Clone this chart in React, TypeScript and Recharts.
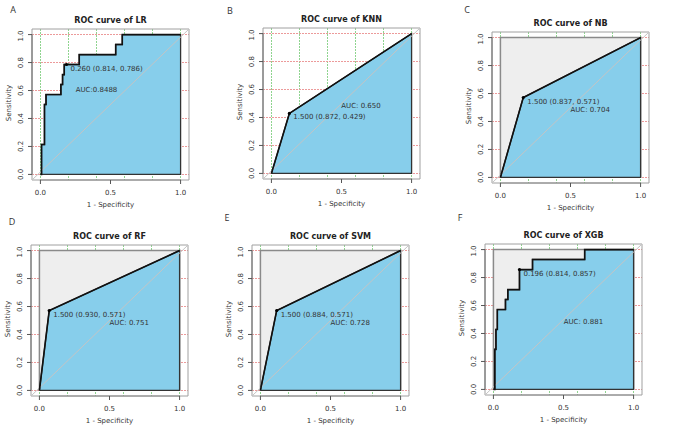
import React from "react";
import {
  ComposedChart,
  Area,
  Line,
  Scatter,
  XAxis,
  YAxis,
  CartesianGrid,
  ReferenceArea,
  ReferenceLine,
} from "recharts";

// ROC curves, x = 1 - specificity, y = sensitivity
const lrFpr = [0, 0.008, 0.008, 0.029, 0.029, 0.04, 0.04, 0.146, 0.146, 0.158, 0.158, 0.17, 0.17, 0.277, 0.277, 0.537, 0.537, 0.584, 0.584, 1];
const lrTpr = [0, 0, 0.214, 0.214, 0.5, 0.5, 0.571, 0.571, 0.643, 0.643, 0.714, 0.714, 0.786, 0.786, 0.857, 0.857, 0.929, 0.929, 1, 1];

const knnFpr = [0, 0.128, 1];
const knnTpr = [0, 0.429, 1];

const nbFpr = [0, 0.163, 1];
const nbTpr = [0, 0.571, 1];

const rfFpr = [0, 0.07, 1];
const rfTpr = [0, 0.571, 1];

const svmFpr = [0, 0.116, 1];
const svmTpr = [0, 0.571, 1];

const xgbFpr = [0, 0.01, 0.01, 0.018, 0.018, 0.028, 0.028, 0.086, 0.086, 0.103, 0.103, 0.186, 0.186, 0.279, 0.279, 0.651, 0.651, 1];
const xgbTpr = [0, 0, 0.286, 0.286, 0.429, 0.429, 0.571, 0.571, 0.643, 0.643, 0.714, 0.714, 0.857, 0.857, 0.929, 0.929, 1, 1];

// best threshold: threshold, specificity, sensitivity
const thresholds = ["0.260", "1.500", "1.500", "1.500", "1.500", "0.196"];
const specificities = ["0.814", "0.872", "0.837", "0.930", "0.884", "0.814"];
const sensitivities = ["0.786", "0.429", "0.571", "0.571", "0.571", "0.857"];
const aucLabels = ["AUC:0.8488", "AUC: 0.650", "AUC: 0.704", "AUC: 0.751", "AUC: 0.728", "AUC: 0.881"];
const models = ["LR", "KNN", "NB", "RF", "SVM", "XGB"];
const letters = ["A", "B", "C", "D", "E", "F"];

const xTicks = [0, 0.5, 1];
const yTicks = [0, 0.2, 0.4, 0.6, 0.8, 1];
const gridX = [0, 0.1, 0.2, 0.3, 0.4, 0.5, 0.6, 0.7, 0.8, 0.9, 1];
const gridY = [0, 0.2, 0.4, 0.6, 0.8, 1];
const maxAucRect = [
  { x: 0, y: 0 },
  { x: 0, y: 1 },
  { x: 1, y: 1 },
  { x: 1, y: 0 },
];

const X_DOMAIN = [-0.06, 1.06];
const Y_DOMAIN = [-0.04, 1.04];
const BOX_W = 157;
const BOX_H = 151;
const Y_AXIS_W = 40;

const curves = [
  [lrFpr, lrTpr],
  [knnFpr, knnTpr],
  [nbFpr, nbTpr],
  [rfFpr, rfTpr],
  [svmFpr, svmTpr],
  [xgbFpr, xgbTpr],
];

// layout of each panel (box top-left in page px) and where the AUC text sits
const layout = [
  { left: 32, top: 29, letter: [13, 9], grey: false, auc: [0.4, 0.606] },
  { left: 263, top: 28, letter: [230, 10], grey: false, auc: [0.639, 0.481] },
  { left: 492, top: 32, letter: [467, 9], grey: true, auc: [0.64, 0.481] },
  { left: 31, top: 245, letter: [12, 221], grey: true, auc: [0.641, 0.479] },
  { left: 252, top: 245, letter: [227, 217], grey: true, auc: [0.641, 0.48] },
  { left: 485, top: 244, letter: [460, 217], grey: true, auc: [0.642, 0.48] },
];

const FONT = "DejaVu Sans, sans-serif";

const YTick = (props: any) => {
  const { x, y, payload } = props;
  return (
    <text
      x={x}
      y={y}
      transform={`rotate(-90 ${x} ${y})`}
      textAnchor="middle"
      fontSize={7}
      fill="#333"
      fontFamily={FONT}
    >
      {Number(payload.value).toFixed(1)}
    </text>
  );
};

const CutPoint = (props: any) => {
  const { cx, cy, payload } = props;
  return (
    <g>
      <circle cx={cx} cy={cy} r={1.6} fill="#000" />
      <text x={cx + 4} y={cy + 4} dominantBaseline="central" fontSize={7} fill="#333" fontFamily={FONT}>
        {payload.text}
      </text>
    </g>
  );
};

const AucText = (props: any) => {
  const { cx, cy, payload } = props;
  return (
    <text x={cx} y={cy} textAnchor="middle" dominantBaseline="central" fontSize={7} fill="#333" fontFamily={FONT}>
      {payload.text}
    </text>
  );
};

const abs = (x: number, y: number, extra: any = {}) => ({
  position: "absolute" as const,
  left: x,
  top: y,
  transform: "translate(-50%, -50%)",
  whiteSpace: "nowrap" as const,
  lineHeight: 1,
  ...extra,
});

function RocPanel({ i }: { i: number }) {
  const p = layout[i];
  const [fpr, tpr] = curves[i];
  const curve = fpr.map((x, k) => ({ x, y: tpr[k] }));
  const polygon = [...curve, { x: 1, y: 0 }, { x: 0, y: 0 }];
  const cut = [
    {
      x: 1 - Number(specificities[i]),
      y: Number(sensitivities[i]),
      text: `${thresholds[i]} (${specificities[i]}, ${sensitivities[i]})`,
    },
  ];
  const auc = [{ x: p.auc[0], y: p.auc[1], text: aucLabels[i] }];
  const cx = p.left + BOX_W / 2;
  const cy = p.top + BOX_H / 2;

  return (
    <>
      <div style={{ position: "absolute", left: p.left - Y_AXIS_W, top: p.top - 2 }}>
        <ComposedChart
          width={Y_AXIS_W + BOX_W + 4}
          height={2 + BOX_H + 36}
          margin={{ top: 2, right: 4, bottom: 0, left: 0 }}
        >
          <CartesianGrid
            horizontal={false}
            verticalValues={gridX}
            stroke="#8fd48f"
            strokeDasharray="2 1"
            shapeRendering="crispEdges"
          />
          <CartesianGrid
            vertical={false}
            horizontalValues={gridY}
            stroke="#ec9a9a"
            strokeDasharray="2 1"
            shapeRendering="crispEdges"
          />
          <XAxis
            type="number"
            dataKey="x"
            domain={X_DOMAIN}
            allowDataOverflow
            ticks={xTicks}
            tickFormatter={(v: number) => v.toFixed(1)}
            axisLine={false}
            tickLine={{ stroke: "#555" }}
            tickSize={4}
            tickMargin={6}
            tick={{ fontSize: 7, fill: "#333", fontFamily: FONT }}
            height={36}
          />
          <YAxis
            type="number"
            dataKey="y"
            domain={Y_DOMAIN}
            allowDataOverflow
            ticks={yTicks}
            axisLine={false}
            tickLine={{ stroke: "#555" }}
            tickSize={4}
            tickMargin={5}
            tick={<YTick />}
            width={Y_AXIS_W}
          />
          {p.grey && (
            <Area
              data={maxAucRect}
              dataKey="y"
              type="linear"
              baseValue={0}
              fill="#eeeeee"
              fillOpacity={1}
              stroke="#8a8a8a"
              strokeWidth={1.5}
              isAnimationActive={false}
            />
          )}
          <Area
            data={polygon}
            dataKey="y"
            type="linear"
            baseValue={0}
            fill="#87ceeb"
            fillOpacity={1}
            stroke="#333"
            strokeWidth={1.3}
            isAnimationActive={false}
          />
          <ReferenceLine
            segment={[
              { x: X_DOMAIN[0], y: Y_DOMAIN[0] },
              { x: X_DOMAIN[1], y: Y_DOMAIN[1] },
            ]}
            stroke="#c4c4c4"
            strokeWidth={1}
          />
          <Line
            data={curve}
            dataKey="y"
            type="linear"
            stroke="#111"
            strokeWidth={1.6}
            dot={false}
            isAnimationActive={false}
          />
          <Scatter data={cut} shape={<CutPoint />} isAnimationActive={false} />
          <Scatter data={auc} shape={<AucText />} isAnimationActive={false} />
          <ReferenceArea
            x1={X_DOMAIN[0]}
            x2={X_DOMAIN[1]}
            y1={Y_DOMAIN[0]}
            y2={Y_DOMAIN[1]}
            fill="none"
            fillOpacity={0}
            stroke="#a0a0a0"
            strokeWidth={1}
          />
          <ReferenceLine
            segment={[
              { x: X_DOMAIN[0], y: 0 },
              { x: X_DOMAIN[0], y: 1 },
            ]}
            stroke="#666"
          />
          <ReferenceLine
            segment={[
              { x: 0, y: Y_DOMAIN[0] },
              { x: 1, y: Y_DOMAIN[0] },
            ]}
            stroke="#888"
          />
        </ComposedChart>
      </div>
      <div style={abs(cx, p.top - 8.5, { fontSize: 8, fontWeight: "bold", color: "#222" })}>
        ROC curve of {models[i]}
      </div>
      <div style={abs(cx, p.top + BOX_H + 24.5, { fontSize: 7, color: "#333" })}>1 - Specificity</div>
      <div
        style={abs(p.left - 23.5, cy - 2, {
          fontSize: 7,
          color: "#333",
          transform: "translate(-50%, -50%) rotate(-90deg)",
        })}
      >
        Sensitivity
      </div>
      <div style={abs(p.letter[0], p.letter[1], { fontSize: 9, color: "#333", fontFamily: "Open Sans, sans-serif" })}>
        {letters[i]}
      </div>
    </>
  );
}

export default function App() {
  return (
    <div
      style={{
        position: "absolute",
        left: 0,
        top: 0,
        width: 685,
        height: 427,
        background: "#fff",
        fontFamily: FONT,
        overflow: "hidden",
      }}
    >
      {models.map((m, i) => (
        <RocPanel key={m} i={i} />
      ))}
    </div>
  );
}
